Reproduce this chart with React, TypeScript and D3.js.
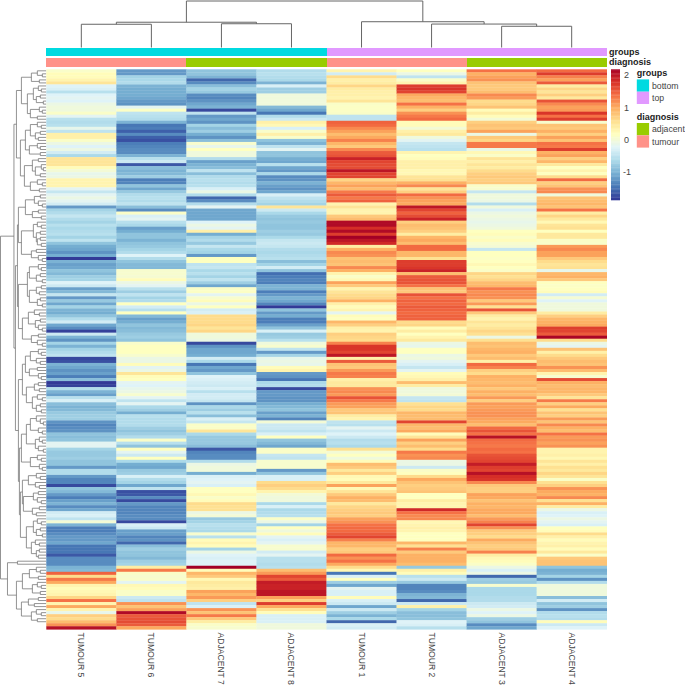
import * as d3 from 'd3'

// sample order as clustered in the figure
const sampleNames = ['TUMOUR 5', 'TUMOUR 6', 'ADJACENT 7', 'ADJACENT 8', 'TUMOUR 1', 'TUMOUR 2', 'ADJACENT 3', 'ADJACENT 4']
const groupsTrack = ['bottom', 'bottom', 'bottom', 'bottom', 'top', 'top', 'top', 'top']
const diagnosisTrack = ['tumour', 'tumour', 'adjacent', 'adjacent', 'tumour', 'tumour', 'adjacent', 'adjacent']
const legendTicks = [2, 1, 0, -1]

const tumour5 = [
  .08,.2,.2,.3,.5,-.25,-.3,-.55,-.25,-.2,-.25,-.1,-.05,-.05,.1,-.2,-.55,-.6,-.55,-.15,-.5,.35,.35,.1,-.1,-.25,-.1,-.35,-.65,.5,.5,.5,.2,0,-.15,-.1,.3,.3,.3,-.2,-.45,-.2,-.1,-.2,-.35,-1.2,-.7,
  -.6,-.45,-.6,-.7,-.55,-.65,-.6,-.55,-.7,-.5,-.85,-1.05,-1.1,-1.25,-1.05,-1.85,-1,-1.15,-1.1,-.85,-.95,-.75,-.7,-.25,-.4,-1.15,-.95,-.45,-1.2,-.8,-1.1,-.7,-1,-1.05,-.85,-.6,-.35,-1.1,-1.3,-1.8,-.4,-1,-1.25,-.7,-1,-.7,
  -.6,-.5,-1.75,-1.7,-1,-1.1,-1.25,-1.15,-1.4,-.9,-1.85,-1.8,-.6,-1,-1.15,-.55,-.3,-.9,-1,-.95,-.8,-.75,-.75,-1.25,-1.35,-1.3,-1.25,-.85,-.9,-.85,-.2,-.2,-.7,-.8,-.8,-.75,-.85,-.85,-1.2,-.6,-.6,-1.2,-1.35,-1.35,-1.75,-.85,-.95,-1.2,-1.4,
  -1.15,-1,-1.3,-1.1,-.35,-.3,-.5,0,-1,-1.4,-1.4,-1.3,-1.2,-1.2,-1.1,-1.45,-1.45,-1.45,-1.65,-1.3,-1.3,-1.3,-1,-.95,
  1.45,.6,1.3,1,.3,.2,.25,.3,.65,1.35,.3,1,.3,-.15,.7,.6,.85,1.15,2.05,
]
const tumour6 = [
  -1.2,-1.2,-.7,-.65,-.6,-1,-1.05,-1.05,-1.05,-1.1,-1.2,-1.25,-.2,.12,-.5,-.55,-.6,-1,-1.45,-1.4,-1.6,-1.3,-1.6,-1.7,-1.4,-1.35,-1.3,-1.3,-1,-.55,-.4,-1.65,-.9,-1,-.95,-.75,-1.4,-1.35,-.85,-1.1,-.8,-.6,-.55,-.6,-.5,-.9,-1.3,
  .1,-.3,-.2,-.55,-.65,-1.15,-1.05,-.85,-.85,-1,-.85,-.8,-.7,-.6,-.25,-.6,-.85,-.95,-.95,.05,.05,.03,.2,-.1,-.2,-.55,-.75,-.5,-.7,-.6,.15,-.35,-.55,.15,-.95,-1.15,-1.05,-.85,-.95,-.9,-.8,-.75,-.85,.08,.15,.15,
  .15,.05,-.1,-.1,.2,-.2,-.1,.5,.2,.15,-.2,-.25,-.15,-.1,.05,-.2,-.5,-.2,-.65,-.75,-1.05,-.55,-.6,-.6,-.6,-.75,-.85,-.75,-.6,.1,-.55,-.85,.15,-.2,-.4,.15,-.65,-1.05,-1.1,-.8,-.75,-.3,-.6,-.7,-1.1,-.5,-1.7,-1.65,-1.3,
  -1.75,-1.2,-1.35,-1.35,-1.35,-1.3,-1.3,-1.75,-.3,-.4,-1.15,-1.15,-1.35,-1.25,-1.55,-.9,-.75,-.85,-.85,-.95,-.75,-.7,.4,1.3,
  .1,.05,.08,-.2,.25,.2,.1,.1,-.4,-.5,1.15,.8,1.05,2.1,1.5,1.55,1.6,1.5,1,
]
const adjacent7 = [
  -.85,-.85,-1,-1.55,-1.3,-.9,-.7,-.8,-1.3,-1.35,-1.25,-1.1,-1,-1.75,-.5,-1.2,-1.1,-1.25,-.7,-.9,-.75,-1.05,-1.25,-.9,.05,-.15,.15,-.05,-.05,-.6,-1.15,-1,-.9,-.5,-.9,-.6,-.55,-.6,-.55,-.3,-.1,-.6,-1.55,-1.3,-.6,-.2,-1.1,
  -1.1,-1.1,-1.1,-.25,-.1,-.2,.35,-1.05,-.7,-.6,-.8,-.45,-.65,-.7,-1.2,.15,.15,-.5,-.45,-.65,-.55,-.7,-.5,-.75,-1.1,.1,.12,-.2,.05,.2,-.1,.15,-.35,-.3,.6,.6,.6,.65,.5,.65,-.05,-.05,-.1,-1.75,-1.25,-1.1,
  -1.1,-1.05,-.35,-.65,-1.45,-1.1,-1.2,-.85,-.25,-.3,-.35,-.4,-.3,-.55,-.35,-.35,-.45,-1.25,-.65,-.75,-.55,-.9,-.3,-.45,.1,.1,.5,-.65,-.8,-.8,-.8,-.9,-1.65,-1.35,-1.3,-1.3,-.6,-.1,-.05,-.05,-1.05,-.3,-.25,-.2,-.3,.15,.15,.25,.1,
  .2,.6,.55,.55,-.1,0,-.8,-.7,-.55,-.6,-.65,.05,-.55,.2,.3,.2,-.7,-.1,-.25,-.3,-.25,-.25,2.2,.2,
  .9,.75,.25,.45,.4,.35,1.05,.9,1.1,.7,-.5,-.3,1.15,.8,1.3,.75,.4,.1,.05,
]
const adjacent8 = [
  -.6,-.55,-.6,-.65,-1,-.3,-.75,-.75,-.05,-.05,-.05,-.05,-.95,-1.1,-1.45,-.6,-.4,.35,.25,-.3,.08,.35,.08,-.85,-1,-.5,-.2,-.85,-.85,-1.05,-1.1,-.55,-1.1,-1.2,-.65,-1.3,-1.25,-1,-1.15,-1.25,-1.1,-.3,-.5,-.6,-.7,.5,-.4,
  -.65,-.8,-.85,-.8,-.85,-.85,-.75,-.8,-.65,-.45,-.4,-.45,-.6,-.65,-.6,-.55,-.9,-.7,-.35,-.85,-1.5,-1.4,-1.35,-1.4,-1,-1,-1.4,-1.2,-1,-1.1,-1.35,-1.85,-.85,-1.2,-1.05,-1.4,-1.4,-1.15,-.85,-.3,-.8,-.75,-.55,-.05,.05,-.5,
  -1.2,-.7,-.15,-.1,-.15,.2,.3,-1.2,-1.25,-1.45,-.65,-.6,-1.75,-1.2,-1.2,-1.25,-1.25,-1.05,-.95,-.85,-1.15,-1,-1.35,0,-.4,-.4,-.5,-.3,.15,-.85,-.95,-1.1,.1,.1,-.45,-.5,.05,.05,.05,-1.2,-.85,-.3,-.3,.6,.7,.6,.3,0,-.05,
  -.05,-.65,-.3,-.65,-.6,-.55,.1,-.1,-.7,.15,-.05,.2,-.2,-.3,-.2,.05,.05,-.35,-.2,-.55,-.55,-.6,-.55,.85,
  1.1,1.65,1.5,1.95,1.9,1.9,2,2,1.05,.7,1.7,1,.55,.2,-.3,-.3,-.3,-.05,-.05,
]
const tumour1 = [
  .3,-.35,.6,.35,.4,.65,.4,.35,.35,.3,.5,.1,.12,.12,.1,-.5,-.5,1.45,1.4,1.2,1.05,.85,1,1.25,.9,.75,1.2,1.5,1.55,1.9,1.65,1.6,1.6,2,1.65,1.65,.65,.9,1.05,.85,1.3,1.5,1.3,1.45,.3,.5,.3,
  .3,.75,.85,2.1,2.1,1.8,2.1,1.7,2.2,2,1.85,.4,.95,1.2,1.15,.8,.85,.8,1.2,.95,.3,.1,.25,1.05,.75,.3,.5,.6,.65,.95,.35,.2,.3,-.2,.2,.15,.9,.7,.35,.3,.7,.65,.6,1.25,1.75,1.75,
  1.65,2,.35,1.5,.8,.75,1.1,1.3,1.25,.35,.45,.45,1.15,1.2,1.1,1.55,1.3,1.1,1.05,.75,.8,.4,.3,-.5,-.55,-.2,-.4,-.25,-.4,-.6,-.55,-.65,.55,0,.15,-.05,.2,.85,.75,.45,.7,.25,.2,.45,1.05,.25,.5,.75,.95,
  .85,.45,.65,.7,.75,.7,1.05,1.15,1.35,1.4,1.4,1.5,1.65,1.25,.9,.9,.7,.75,1.4,1.15,1.35,1,.6,.25,
  -1.45,-.3,.15,-.75,-1.1,-.2,-.3,-.3,.2,-.3,-.4,-1.1,-.4,-.75,-1,-.65,-1.55,-.3,-.35,
]
const tumour2 = [
  .15,-.1,-.5,.1,.3,1.7,1.75,1.65,1,.9,.85,1.35,.95,.7,1.15,1.3,1.4,.2,.2,0,.35,.45,-.05,-.2,-.45,-.5,-.55,.3,.15,.2,.35,.35,.35,.25,.25,.5,.55,.95,1.2,.5,.7,1.4,1.15,1.05,1,2,1.65,
  1.45,1.6,1.9,.7,.85,.8,.7,.4,.9,1,.85,1.4,1.4,.9,.9,.55,1.7,1.7,1.75,1.9,.85,1.5,1.55,1.55,1.35,.8,.75,1.55,1.35,1.45,1.4,1.5,1.45,1.4,1.45,1.45,.6,.65,.2,.4,.15,.3,.45,-.1,-.15,.15,
  .15,-.1,-.05,-.2,-.3,-.45,-.2,.2,.25,.35,.85,.4,-.05,-.05,0,-.45,-.5,.55,.65,.6,.9,.85,.85,1.65,.9,.85,1,.2,.5,1.05,.7,.85,.6,1.3,1.15,1.2,-.1,-.1,-.4,.1,.15,.6,1,.8,.7,.75,.8,.15,.15,
  .4,.3,.3,1.85,1.35,1.2,1.2,.25,.3,.35,.3,.15,.15,.15,.9,.55,1.25,.75,.95,.95,.95,.85,-.8,.35,
  .2,-.55,-.4,-.8,-1.35,-1.35,-1.3,-1,-.95,-1.55,-.4,.35,-.7,-.9,-.9,-.85,-.25,-.3,-.55,
]
const adjacent3 = [
  1.35,.95,1.05,1.15,.8,.75,.75,.85,1.2,1.1,.6,.65,.8,.2,.4,.2,0,.7,.8,.75,1.05,-.1,.75,.65,1.3,1.3,-.1,.25,.1,.5,.35,.5,.4,.6,.7,.75,.7,.75,.1,.05,-.45,-.05,-.05,-.1,-.6,-.05,-.3,
  -.1,-.05,-.1,-.15,-.1,-.05,.15,.2,.1,.2,.05,0,-.45,.15,.15,.12,.15,.25,.15,.1,.65,.55,.65,.85,.9,1.3,1.15,1.2,1.15,.75,1.1,.55,1.55,.75,.4,.3,.5,.4,.5,.65,.55,-.1,.55,.85,.8,.9,
  .95,.75,.85,.35,1.4,1.25,.7,.6,.95,.9,.85,.95,.75,.95,.85,1.1,.7,1.1,1.05,1.1,1.15,1.15,1.05,1,.85,1.4,1.55,1.35,2.05,1.4,1.35,1.3,1.4,1.35,1.55,1.6,1.65,1.95,1.7,1.65,2.05,1.8,1.75,1.2,.75,.7,.7,1.05,1,
  .8,.95,.9,1,1,.85,1.1,1.25,1.65,1.15,.75,.7,.6,1,.8,.7,.75,1.25,.4,.25,.2,.1,-.1,-.3,
  -.1,-1.55,-.75,-.8,.05,-.65,-.65,-.65,-.6,-.6,-.4,-.35,-.1,-.25,-.1,-.75,-.85,-1.3,-1.1,
]
const adjacent4 = [
  1.4,1.7,1.25,1.05,1.5,.4,.65,.5,.7,.45,1.55,1.2,1.05,1.1,1.75,1.35,1.7,.05,.8,.75,.95,.7,1.05,.8,1.35,1.3,1.7,.95,1.05,.7,.9,.45,.15,.3,.15,.6,1.4,.7,.8,1.15,1.2,-.05,.8,.85,.9,.8,1.35,
  .4,.65,.45,.25,.5,.55,.15,.45,.45,.1,.08,1.1,1.2,1.05,1.05,.75,.6,.5,.55,-.15,.9,.95,.75,.15,.12,.15,.2,-.35,.02,-.25,-.05,-.05,-.05,.4,.7,.9,.95,1,1.7,1.65,1.5,2.15,.6,-.1,-.2,.8,
  .35,.6,.75,.85,.8,1.15,.85,.3,.05,1.6,.95,.85,.9,.9,.75,.5,1.3,.7,1,.55,.8,.7,1.1,.8,1.2,.95,.85,1.35,1.1,1.15,1.05,1.15,.3,.3,.35,.25,.5,.35,.55,.45,.65,.5,.1,.55,.7,1.15,1,.95,1.2,
  .55,.95,.4,-.1,-.3,-.25,-.1,-.2,-.3,.15,.2,.6,.35,.2,.3,.35,.2,.45,.1,.75,.8,.8,-.85,-1.05,
  -1,-.7,-1.25,-.6,-.05,-.05,-.05,-.05,-.9,-.35,-.85,-.75,-1.25,-.6,-.55,-.6,.2,-.4,-.25,
]
const columns = [tumour5, tumour6, adjacent7, adjacent8, tumour1, tumour2, adjacent3, adjacent4]

// column clustering, leaves are column indices, first number is merge height
const colTree: any = [46, [25, [23, 0, 1], [23.5, 2, 3]], [25.5, 4, [23.2, 5, [21, 6, 7]]]]

// row clustering, first number is merge height, 0 is a leaf
const rowsTop = [30,
  [25, [15, [9, 0, [4, 0, 0]], [7, 0, 0]], [19, [13, [8, 0, [5, 0, 0]], [10, [6, 0, 0], [3, 0, 0]]], [16, [7, 0, [4, 0, 0]], [9, 0, 0]]]],
  [26, [21, [16, [9, 0, [5, 0, 0]], [11, [6, 0, 0], [8, 0, 0]]], [17, [9, 0, [6, 0, 0]], [6, 0, 0]]],
    [22, [14, [8, 0, 0], [11, [5, 0, [3, 0, 0]], [6, 0, 0]]], [16, [9, 0, [4, 0, 0]], [7, 0, 0]]]]]
const rowsUpperMid = [29,
  [28, [21, [12, [6, 0, 0], [8, 0, [4, 0, 0]]], [14, [8, 0, 0], [5, 0, 0]]],
    [25, [13, [9, 0, [5, 0, 0]], [10, [6, 0, 0], [9, [6, 0, 0], [5, 0, 0]]]], [15, [10, 0, 0], [8, 0, [4, 0, 0]]]]],
  [28, [19, [17, [8, 0, [5, 0, 0]], [10, [6, 0, 0], [4, 0, 0]]], [17, [10, [5, 0, 0], [7, 0, 0]], [9, [6, 0, 0], [4, 0, 0]]]],
    [24, [18, [12, 0, [7, 0, 0]], [11, [6, 0, 0], [8, 0, [4, 0, 0]]]], [15, [8, 0, 0], [9, 0, [4, 0, 0]]]]]]
const rowsLowerMid = [28,
  [24, [21, [16, [8, 0, [5, 0, 0]], [10, 0, [6, 0, 0]]], [17, [9, 0, 0], [8, 0, [5, 0, 0]]]],
    [20, [12, [8, 0, 0], [7, 0, 0]], [14, [9, 0, [4, 0, 0]], [10, [6, 0, 0], [5, 0, 0]]]]],
  [27, [25, [20, [16, [10, 0, [6, 0, [3, 0, 0]]], [8, 0, [4, 0, 0]]], [11, [7, 0, [4, 0, 0]], [8, 0, [3, 0, 0]]]], [16, [9, 0, [5, 0, 0]], [7, 0, [4, 0, 0]]]],
    [26, [24, [18, [10, 0, [6, 0, 0]], [11, 0, [7, 0, 0]]], [23, [13, [8, 0, 0], [9, 0, [5, 0, 0]]], [14, [7, 0, 0], [10, 0, 0]]]],
      [20, [13, [9, 0, [5, 0, 0]], [10, [6, 0, 0], [4, 0, 0]]], [15, [11, 0, [7, 0, 0]], [10, [7, 0, 0], [8, 0, 0]]]]]]]
const rowsBottom = [39,
  [29, 0, 0],
  [30, [24, [17, [10, 0, [6, 0, 0]], [8, 0, 0]], [14, [9, 0, [5, 0, 0]], [6, 0, 0]]],
    [25, [18, [8, 0, 0], [12, 0, 0]], [15, [10, 0, [5, 0, 0]], [9, 0, 0]]]]]
const rowTree: any = [46, [32.5, rowsTop, [31, rowsUpperMid, rowsLowerMid]], rowsBottom]

const palette = ['#313695', '#4575B4', '#74ADD1', '#ABD9E9', '#E0F3F8', '#FFFFBF', '#FEE090', '#FDAE61', '#F46D43', '#D73027', '#A50026']
const trackColors: Record<string, string> = { bottom: '#00DAE0', top: '#E199FF', adjacent: '#99CC00', tumour: '#FF9289' }

const FONT = '"Liberation Sans", Arial, sans-serif'
const left = 46.3, right = 606.7, top = 69.3, bottom = 629.3
const nRows = tumour5.length

const x = d3.scaleBand<number>().domain(d3.range(8)).range([left, right])
const y = d3.scaleBand<number>().domain(d3.range(nRows)).range([top, bottom])
const color = d3.scaleSequential(d3.piecewise(d3.interpolateRgb, palette)).domain([-1.87, 2.19])
const barY = d3.scaleLinear().domain([2, -1]).range([75, 172])
const rowH = d3.scaleLinear().domain([0, 46]).range([left, 0.5])
const colH = d3.scaleLinear().domain([0, 46]).range([47.5, 1])

// walks a merge tree and adds the two elbows of every node to the path
function walkRows(node: any, counter: { i: number }, p: d3.Path): number {
  if (!Array.isArray(node)) {
    const pos = y(counter.i)! + y.bandwidth() / 2
    counter.i += 1
    return pos
  }
  const a = walkRows(node[1], counter, p)
  const b = walkRows(node[2], counter, p)
  const childX = (c: any) => rowH(Array.isArray(c) ? c[0] : 0)
  p.moveTo(childX(node[1]), a)
  p.lineTo(rowH(node[0]), a)
  p.lineTo(rowH(node[0]), b)
  p.lineTo(childX(node[2]), b)
  return (a + b) / 2
}

function walkCols(node: any, p: d3.Path): number {
  if (!Array.isArray(node)) return x(node)! + x.bandwidth() / 2
  const a = walkCols(node[1], p)
  const b = walkCols(node[2], p)
  const childY = (c: any) => colH(Array.isArray(c) ? c[0] : 0)
  p.moveTo(a, childY(node[1]))
  p.lineTo(a, colH(node[0]))
  p.lineTo(b, colH(node[0]))
  p.lineTo(b, childY(node[2]))
  return (a + b) / 2
}

const rowPath = d3.path()
walkRows(rowTree, { i: 0 }, rowPath)
const colPath = d3.path()
walkCols(colTree, colPath)

const barSteps = d3.range(100)
const barTop = 69.3, barBottom = 200

function Swatch({ yy, name }: { yy: number; name: string }) {
  return (
    <g>
      <rect x={636.8} y={yy} width={12.3} height={12.3} fill={trackColors[name]} />
      <text x={652} y={yy + 9.2} fontSize={8.7} fill="#444">{name}</text>
    </g>
  )
}

export default function App() {
  return (
    <svg width={685} height={685} style={{ position: 'absolute', left: 0, top: 0 }} fontFamily={FONT}>
      <rect width={685} height={685} fill="#fff" />

      <path d={colPath.toString()} fill="none" stroke="#666" strokeWidth={1} />
      <path d={rowPath.toString()} fill="none" stroke="#777" strokeWidth={0.8} />

      <g shapeRendering="crispEdges">
        {groupsTrack.map((g, i) => (
          <rect key={i} x={x(i)} y={47.8} width={x.bandwidth()} height={8.6} fill={trackColors[g]} />
        ))}
        {diagnosisTrack.map((d, i) => (
          <rect key={i} x={x(i)} y={58} width={x.bandwidth()} height={8.7} fill={trackColors[d]} />
        ))}
      </g>
      <text x={609} y={54.5} fontSize={9} fontWeight="bold" fill="#222">groups</text>
      <text x={609} y={65} fontSize={9} fontWeight="bold" fill="#222">diagnosis</text>

      {columns.map((vals, c) => (
        <g key={c}>
          {vals.map((v, r) => (
            <rect key={r} x={x(c)} y={y(r)} width={x.bandwidth() + 0.3} height={y.bandwidth() + 0.3} fill={color(v)} />
          ))}
        </g>
      ))}

      {sampleNames.map((name, i) => {
        const cx = x(i)! + x.bandwidth() / 2
        return (
          <text key={name} transform={`translate(${cx - 3},632.5) rotate(90)`} fontSize={8.6} fill="#444">{name}</text>
        )
      })}

      {barSteps.map((s) => {
        const h = (barBottom - barTop) / barSteps.length
        const yy = barTop + s * h
        return <rect key={s} x={611} y={yy} width={9} height={h + 0.3} fill={color(barY.invert(yy + h / 2))} />
      })}
      {legendTicks.map((t) => (
        <text key={t} x={t < 0 ? 623 : 624} y={barY(t) + 3.2} fontSize={9} fill="#444">{t}</text>
      ))}

      <text x={636.8} y={76.3} fontSize={9} fontWeight="bold" fill="#222">groups</text>
      <Swatch yy={79.4} name="bottom" />
      <Swatch yy={91.7} name="top" />
      <text x={636.8} y={120} fontSize={9} fontWeight="bold" fill="#222">diagnosis</text>
      <Swatch yy={123} name="adjacent" />
      <Swatch yy={135.3} name="tumour" />
    </svg>
  )
}
